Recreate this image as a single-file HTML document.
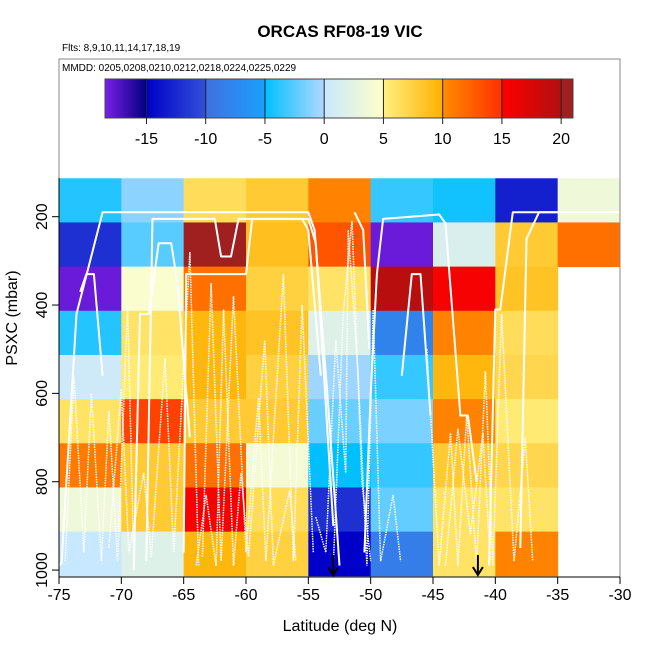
<!DOCTYPE html>
<html><head><meta charset="utf-8"><style>
body{margin:0;background:#fff;}
svg text{font-family:"Liberation Sans",sans-serif;}
</style></head><body>
<svg id="c" width="650" height="650" xmlns="http://www.w3.org/2000/svg">
<text x="340" y="37" font-size="17" font-weight="bold" text-anchor="middle">ORCAS RF08-19 VIC</text>
<text x="62" y="51" font-size="10">Flts: 8,9,10,11,14,17,18,19</text>
<g id="cells"></g>
<g id="tracks"></g>
<rect x="59" y="59" width="561" height="518" fill="none" stroke="#888" stroke-width="1"/>
<text x="62" y="71" font-size="10">MMDD: 0205,0208,0210,0212,0218,0224,0225,0229</text>
<g id="cbar"></g>
<g id="axes"></g>
<text x="340" y="631" font-size="16" text-anchor="middle">Latitude (deg N)</text>
<text transform="translate(17,318) rotate(-90)" font-size="16" text-anchor="middle">PSXC (mbar)</text>
</svg>
<script>
const latBins=[-75,-70,-65,-60,-55,-50,-45,-40,-35];
const pressBins=[113,213,313,413,513,613,713,813,913];
const cellValues=[
[-4,-12,-18,-4,0.5,6,11,3.5,0],
[-1,-2.5,4.5,6,5.5,14,8,8,2],
[6.5,20.5,11.5,9.5,9.5,8,11.5,15.5,9.5],
[8,8.8,7.5,8.5,7.5,8,4,6.5,7.5],
[10.5,13,6,2,-0.5,-2,-5,-12,-15],
[-3.5,-18,19.5,-8,-3.5,-1.5,-3.5,-2.2,-8.5],
[-4.5,1.5,15.5,10.5,9.5,10.5,8,6,6],
[-13,8,8.5,6.5,7,5.5,7,6,10.5],
[3.5,11.5,null,null,null,null,null,null,null]];
const xTicks=[-75,-70,-65,-60,-55,-50,-45,-40,-35,-30];
const yTicks=[200,400,600,800,1000];
const cbTicks=[-15,-10,-5,0,5,10,15,20];
const arrowLats=[-53,-41.4];
const solidTracks=[
[[-75,990],[-74.8,985],[-73.6,420],[-71.5,190],[-55,190],[-54.5,230],[-53.5,590],[-52.5,990]],
[[-68,980],[-67.5,205],[-62.5,205],[-62,290],[-61.2,290],[-60.6,205],[-55,205],[-54.4,260],[-53,900]],
[[-65,960],[-64.8,330],[-60,330],[-59.5,205],[-55.5,205],[-55,230],[-54,560]],
[[-73.3,370],[-72.8,330],[-72.2,330],[-71.5,560]],
[[-69,1000],[-68.5,420],[-67.8,420],[-67,260],[-66,260],[-65.5,350],[-64.5,700]],
[[-50.5,960],[-50,600],[-49.5,330],[-49,205],[-44.5,195],[-44,215],[-42.8,650],[-42.2,650],[-41.5,800]],
[[-40.5,990],[-40,410],[-39.6,410],[-38.6,190],[-30,190]],
[[-38,950],[-37.5,250],[-36.5,190],[-35,190]],
[[-51.3,190],[-50.6,230],[-50.1,500]],
[[-47.5,560],[-46.7,330],[-46,330],[-45.2,650]]
];
const dottedTracks=[
[[-74.5,980],[-73.8,560],[-73,960],[-72.4,600],[-71.6,980],[-71,640],[-70.3,980],[-69.5,400],[-69,980]],
[[-71,950],[-70,590],[-69.4,960],[-68.2,780],[-67.6,970],[-66.5,520],[-65.8,960],[-64.5,280],[-63.8,990]],
[[-64,990],[-63.2,830],[-62.4,990],[-61.8,410],[-61,990],[-60.4,780],[-59.8,970],[-58.5,480],[-57.8,990],[-56.5,820],[-56,980]],
[[-63.5,970],[-62.8,350],[-62,980],[-61,380],[-60,960],[-59,610],[-58.4,980],[-57,330],[-56.2,980],[-55.5,400],[-54.6,960]],
[[-54.4,880],[-53.6,960],[-52.8,480],[-52,780],[-51.8,230],[-51,560],[-50.3,990],[-49.8,410],[-49.2,980],[-48.2,830],[-47.6,980]],
[[-53,990],[-52.2,420],[-51.5,210],[-50.7,800],[-50,980]],
[[-45.5,500],[-44.5,990],[-43.6,690],[-43,990],[-42.3,650],[-41.5,990],[-40.8,550],[-40.2,990],[-39.5,420],[-38.5,980],[-37.6,700],[-37,980]],
[[-44,990],[-43,680],[-42,920],[-41,690],[-40.4,980]]
];
const NS='http://www.w3.org/2000/svg';
const X0=59,X1=620,LAT0=-75,LAT1=-30;
function xs(l){return X0+(l-LAT0)*(X1-X0)/(LAT1-LAT0);}
function ys(p){return 216.7+(p-200)*0.4417;}
const stops=[[-18.5,[122,31,232]],[-15.01,[0,0,128]],[-15,[0,0,200]],[-10.01,[50,80,216]],[-10,[64,112,224]],[-5.01,[26,160,255]],[-5,[0,191,255]],[-0.01,[176,216,255]],[0,[200,232,255]],[4.99,[255,255,200]],[5,[255,240,128]],[9.99,[255,176,0]],[10,[255,140,0]],[14.99,[255,48,0]],[15,[255,0,0]],[19.99,[176,16,16]],[20,[160,32,32]],[21,[160,32,32]]];
function col(v){if(v<=stops[0][0])return 'rgb('+stops[0][1]+')';
for(let i=1;i<stops.length;i++){if(v<=stops[i][0]){const a=stops[i-1],b=stops[i];const t=(v-a[0])/(b[0]-a[0]);return 'rgb('+a[1].map((c,k)=>Math.round(c+(b[1][k]-c)*t)).join(',')+')';}}
return 'rgb('+stops[stops.length-1][1]+')';}
function mk(tag,at,parent){const e=document.createElementNS(NS,tag);for(const k in at)e.setAttribute(k,at[k]);parent.appendChild(e);return e;}
const cells=document.getElementById('cells');
latBins.forEach((lat,i)=>{pressBins.forEach((p,j)=>{const v=cellValues[i][j];if(v===null)return;
const r=mk('rect',{x:xs(lat),y:ys(p),width:xs(lat+5)-xs(lat)+0.5,height:ys(p+100)-ys(p)+0.5,fill:col(v)},cells);

});});
const tr=document.getElementById('tracks');
function pts(t){return t.map(q=>xs(q[0]).toFixed(1)+','+ys(q[1]).toFixed(1)).join(' ');}
solidTracks.forEach(t=>{const e=mk('polyline',{points:pts(t),fill:'none',stroke:'#fff','stroke-width':2,'stroke-linejoin':'round'},tr);

});
dottedTracks.forEach(t=>{const e=mk('polyline',{points:pts(t),fill:'none',stroke:'#fff','stroke-width':1.5,'stroke-dasharray':'1.5,1'},tr);

});
arrowLats.forEach(l=>{const x=xs(l);
const a=mk('path',{d:`M${x},555 L${x},575 M${x-5},567 L${x},575 L${x+5},567`,stroke:'#000','stroke-width':2,fill:'none'},tr);

});
// colorbar
const cb=document.getElementById('cbar');const CB0=105,CB1=573,V0=-18.5,V1=21;
function cx(v){return CB0+(v-V0)*(CB1-CB0)/(V1-V0);}
for(let px=CB0;px<CB1;px++){const v=V0+(px+0.5-CB0)*(V1-V0)/(CB1-CB0);mk('rect',{x:px,y:79,width:1.2,height:39,fill:col(v)},cb);}
mk('rect',{x:CB0,y:79,width:CB1-CB0,height:39,fill:'none',stroke:'#444','stroke-width':1},cb);
cbTicks.forEach(t=>{const x=cx(t);mk('line',{x1:x,x2:x,y1:79,y2:124,stroke:'#222','stroke-width':1},cb);
const tx=mk('text',{x:x,y:144,'font-size':16,'text-anchor':'middle'},cb);tx.textContent=t;

});
// axes
const ax=document.getElementById('axes');
mk('line',{x1:X0,x2:X1,y1:577,y2:577,stroke:'#000'},ax);
mk('line',{x1:X0,x2:X0,y1:178,y2:577,stroke:'#000'},ax);
xTicks.forEach(t=>{const x=xs(t);mk('line',{x1:x,x2:x,y1:577,y2:584,stroke:'#000'},ax);
const tx=mk('text',{x:x,y:600,'font-size':16,'text-anchor':'middle'},ax);tx.textContent=t;

});
yTicks.forEach(t=>{const y=ys(t);mk('line',{x1:X0,x2:X0-7,y1:y,y2:y,stroke:'#000'},ax);
const tx=mk('text',{x:0,y:0,'font-size':16,'text-anchor':'middle',transform:`translate(47,${y}) rotate(-90)`},ax);tx.textContent=t;

});
</script>
</body></html>
